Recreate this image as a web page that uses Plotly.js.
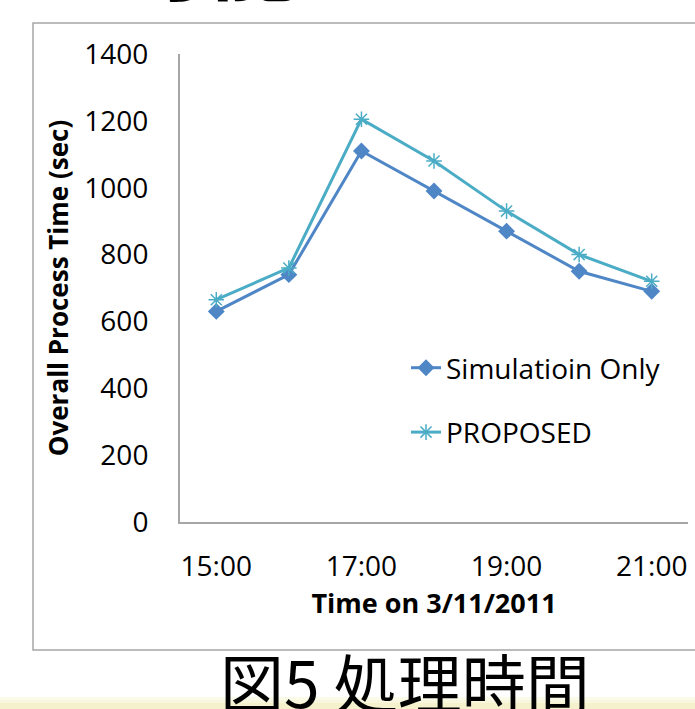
<!DOCTYPE html>
<html>
<head>
<meta charset="utf-8">
<script src="https://cdn.plot.ly/plotly-3.0.1.min.js"></script>
<style>html,body{margin:0;padding:0;background:#fff;}#chart{width:695px;height:709px;}</style>
</head>
<body>
<div id="chart"></div>
<script>
// ---- data ----
const times = ["15:00","16:00","17:00","18:00","19:00","20:00","21:00"];
const tickLabels = ["15:00","17:00","19:00","21:00"];
const simulationOnly = [630, 740, 1110, 990, 870, 750, 690];
const proposed = [665, 760, 1205, 1080, 930, 800, 720];
const seriesNames = ["Simulatioin Only", "PROPOSED"];
const yTitle = "Overall Process Time (sec)";
const xTitle = "Time on 3/11/2011";
const caption = "図5 処理時間";
const headingFragment = "可能である";

// ---- geometry helpers (pixel -> paper) ----
const W = 695, H = 709;
const L = 180, R = 7, T = 54, B = 187;
const pw = W - L - R, ph = H - T - B;
const px = x => (x - L) / pw;
const py = y => (H - B - y) / ph;

const tickFont = {family: "Open Sans, sans-serif", size: 28, color: "#000"};
const titleFont = {family: "Open Sans, sans-serif", size: 26, color: "#000", weight: "bold"};
const xTitleFont = {family: "Open Sans, sans-serif", size: 27, color: "#000", weight: "bold"};

const traces = [
  {
    x: times, y: simulationOnly, name: seriesNames[0], type: "scatter", mode: "lines+markers",
    legendgroup: "a",
    line: {color: "#4F86C6", width: 3},
    marker: {symbol: "diamond", size: 13, color: "#4F86C6"}
  },
  {
    x: times, y: proposed, name: seriesNames[1], type: "scatter", mode: "lines+markers",
    legendgroup: "b",
    line: {color: "#4BACC6", width: 3},
    marker: {symbol: "asterisk-open", size: 13, color: "#4BACC6", line: {color: "#4BACC6", width: 1.5}}
  }
];

const layout = {
  width: W, height: H,
  margin: {l: L, r: R, t: T, b: B},
  paper_bgcolor: "#ffffff", plot_bgcolor: "#ffffff",
  showlegend: true,
  legend: {
    x: px(406), y: py(343), xanchor: "left", yanchor: "top",
    font: tickFont, traceorder: "grouped", tracegroupgap: 25,
    bgcolor: "rgba(0,0,0,0)"
  },
  xaxis: {
    type: "category", range: [-0.5, 6.5],
    tickmode: "array", tickvals: tickLabels, ticktext: tickLabels,
    showgrid: false, zeroline: false, showline: true, linecolor: "#a6a6a6", linewidth: 2,
    ticks: "", ticklabelstandoff: 18, tickfont: tickFont,
    title: {text: xTitle, font: xTitleFont, standoff: 11},
    automargin: false, fixedrange: true
  },
  yaxis: {
    range: [0, 1400], dtick: 200, tick0: 0,
    showgrid: false, zeroline: false, showline: true, linecolor: "#a6a6a6", linewidth: 2,
    ticks: "", ticklabelstandoff: 24, tickfont: tickFont,
    title: {text: yTitle, font: titleFont, standoff: 8},
    automargin: false, fixedrange: true
  },
  shapes: [
    {type: "rect", xref: "paper", yref: "paper", x0: px(33), x1: px(720), y0: py(650), y1: py(23),
     line: {color: "#a6a6a6", width: 1.5}, fillcolor: "rgba(0,0,0,0)", layer: "below"},
    {type: "rect", xref: "paper", yref: "paper", x0: px(-5), x1: px(720), y0: py(700), y1: py(697),
     line: {width: 0}, fillcolor: "#fbfbea", layer: "below"},
    {type: "rect", xref: "paper", yref: "paper", x0: px(-5), x1: px(720), y0: py(703), y1: py(700),
     line: {width: 0}, fillcolor: "#f8f6dc", layer: "below"},
    {type: "rect", xref: "paper", yref: "paper", x0: px(-5), x1: px(720), y0: py(712), y1: py(703),
     line: {width: 0}, fillcolor: "#f5f1cc", layer: "below"}
  ],
  annotations: [
    {text: caption, xref: "paper", yref: "paper", x: px(405), y: py(632), xanchor: "center", yanchor: "top",
     showarrow: false, font: {family: "Noto Sans CJK JP, sans-serif", size: 64, color: "#000"}},
    {text: headingFragment, xref: "paper", yref: "paper", x: px(120), y: py(20), xanchor: "left", yanchor: "bottom",
     showarrow: false, font: {family: "Noto Sans CJK JP, sans-serif", size: 88, color: "#000", weight: "bold"}}
  ]
};

Plotly.newPlot("chart", traces, layout, {displayModeBar: false, staticPlot: true});
</script>
</body>
</html>
